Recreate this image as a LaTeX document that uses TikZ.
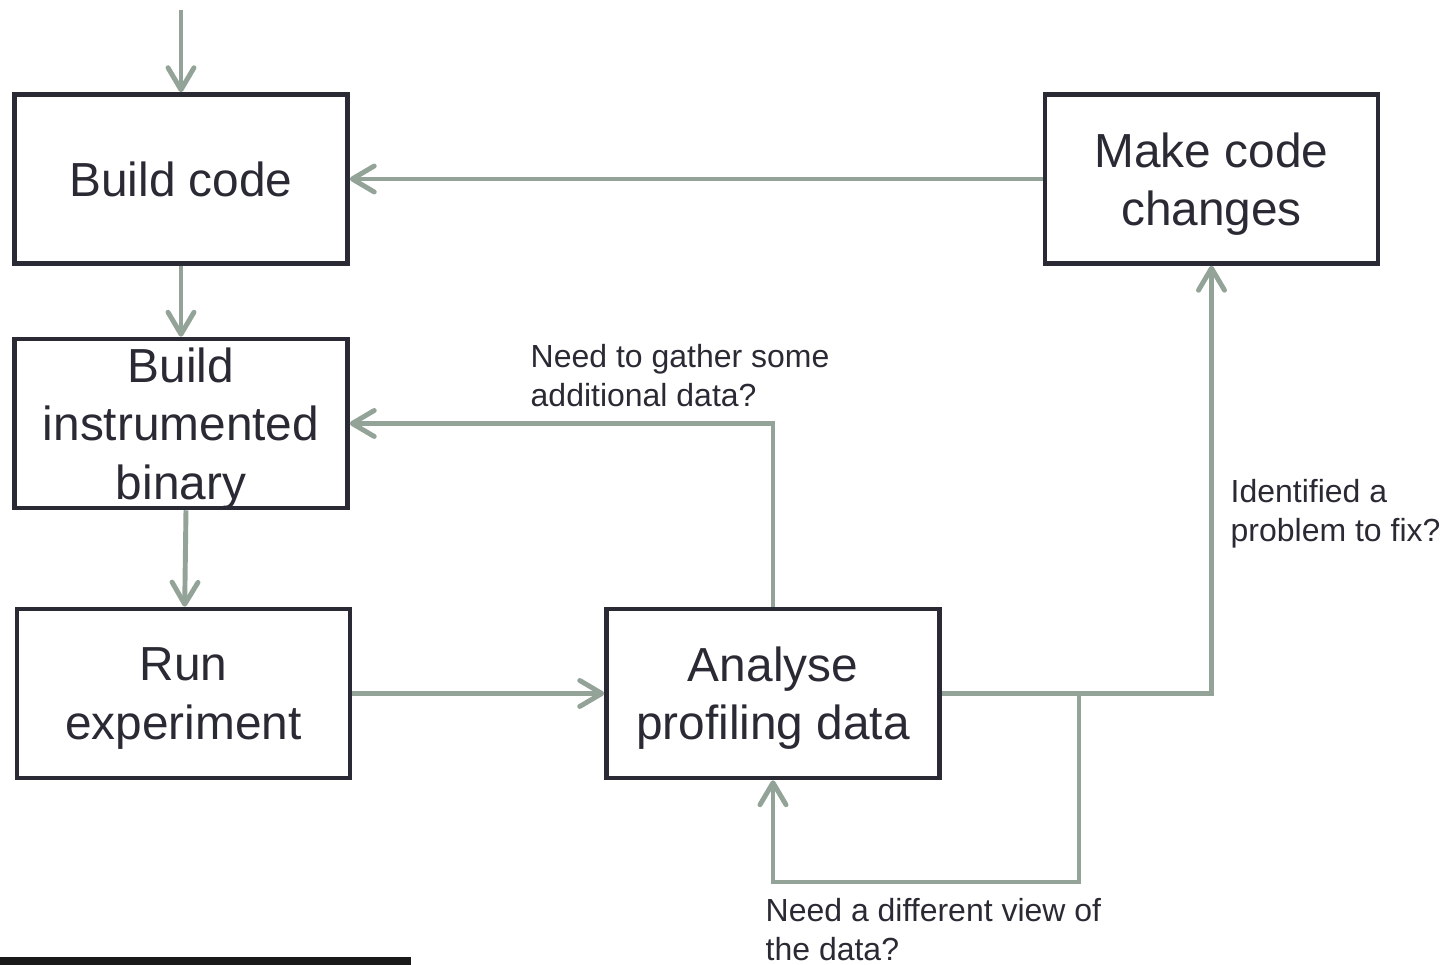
\documentclass[tikz,border=0pt]{standalone}
\usepackage{fontspec}
\setmainfont{Liberation Sans}
\usetikzlibrary{arrows.meta,positioning}
\definecolor{tinta}{HTML}{2A2A35}
\definecolor{salvia}{HTML}{93A398}
\definecolor{barra}{HTML}{1A1A1A}

\begin{document}
\begin{tikzpicture}[
    stage/.style={rectangle, draw=tinta, line width=1.3pt, text=tinta,
                  minimum width=3.33cm, minimum height=1.69cm, inner sep=0pt,
                  align=center, text depth=-0.04cm,
                  font=\fontsize{13.6pt}{16.6pt}\selectfont},
    wire/.style={line width=1.4pt, draw=salvia},
    flow/.style={wire, -{Straight Barb[length=2.2mm, width=2.6mm, round]}},
    remark/.style={text=tinta, inner sep=0pt, anchor=north west, align=left,
                   font=\fontsize{9.1pt}{11pt}\selectfont}
  ]
  \useasboundingbox (0,0) rectangle (14.45,9.65);

  \node[stage] (s1) at (1.81,7.86) {Build code};
  \node[stage] (s2) at (1.81,5.415) {Build\\ instrumented\\ binary};
  \node[stage] (s3) at (1.835,2.715) {Run\\ experiment};
  \node[stage] (s4) at (7.73,2.715) {Analyse\\ profiling data};
  \node[stage] (s5) at (12.115,7.86) {Make code\\ changes};

  \coordinate (entry) at (1.81,9.55);
  \coordinate (fork) at (10.79,2.715);
  \coordinate (loop) at (10.79,0.83);

  \draw[flow] (entry) -- (s1);
  \draw[flow] (s1) -- (s2);
  \draw[flow] ([xshift=0.05cm]s2.south) -- (s3);
  \draw[flow] (s5) -- (s1);
  \draw[flow] (s4.north) |- (s2.east);
  \draw[flow] (s3) -- (s4);
  \draw[flow] (s4.east) -| (s5.south);
  \draw[flow] (fork) -- (loop) -| (s4.south);

  \node[remark] (q1) at (5.30,6.21) {Need to gather some\\ additional data?};
  \node[remark] (q2) at (12.30,4.86) {Identified a\\ problem to fix?};
  \node[remark] (q3) at (7.65,0.67) {Need a different view of\\ the data?};

  \fill[barra] (0,0) rectangle (4.11,0.08);
\end{tikzpicture}
\end{document}
